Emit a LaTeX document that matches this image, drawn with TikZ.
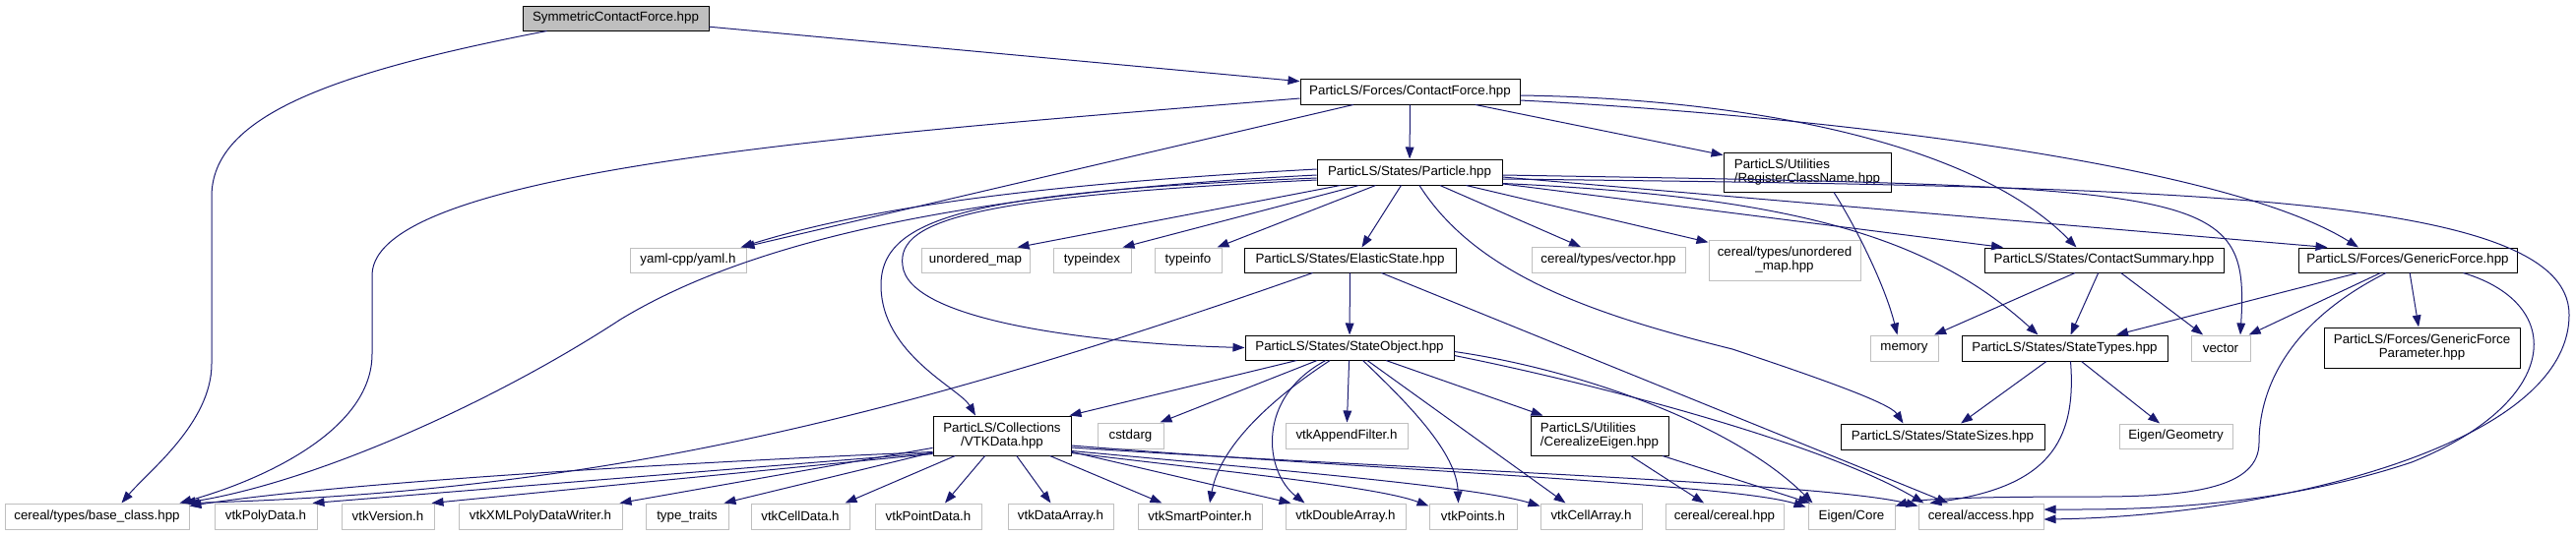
\documentclass[tikz,border=0pt]{standalone}
\usepackage{fontspec}
\setmainfont{Liberation Sans}
\usetikzlibrary{arrows.meta,calc}
\definecolor{edgeblue}{RGB}{25,25,112}
\definecolor{sysgray}{RGB}{191,191,191}

\begin{document}
\begin{tikzpicture}[x=0.75pt, y=-0.75pt,
  font=\fontsize{10}{10.5}\selectfont,
  hdr/.style={draw=black, line width=0.75pt, fill=white, inner sep=0pt, align=center},
  sys/.style={hdr, draw=sysgray},
  root/.style={hdr, fill=sysgray},
  sz/.style 2 args={minimum width=#1*0.75pt, minimum height=#2*0.75pt},
  dep/.style={edgeblue, line width=0.75pt, -{Triangle[length=9pt,width=6.5pt]}}]
  \useasboundingbox (0,0) rectangle (2617,544);

  % rank 0 - 2
  \node[root, sz={189}{25}] (scf) at (625.5,18.5) {SymmetricContactForce.hpp};
  \node[hdr, sz={223}{26}] (cf) at (1432.5,93) {ParticLS/Forces/ContactForce.hpp};
  \node[hdr, sz={188}{26}] (part) at (1432,175) {ParticLS/States/Particle.hpp};
  \node[hdr, sz={170}{40}, align=left] (reg) at (1836,175) {ParticLS/Utilities\\/RegisterClassName.hpp};

  % rank 3
  \node[sys, sz={118}{25}] (yaml) at (699,264.5) {yaml-cpp/yaml.h};
  \node[sys, sz={110}{25}] (umap) at (991,264.5) {unordered\_map};
  \node[sys, sz={79}{25}] (tidx) at (1109.5,264.5) {typeindex};
  \node[sys, sz={68}{25}] (tinfo) at (1207,264.5) {typeinfo};
  \node[hdr, sz={215}{25}] (elastic) at (1371.5,264.5) {ParticLS/States/ElasticState.hpp};
  \node[sys, sz={156}{26}] (cvec) at (1634,264.5) {cereal/types/vector.hpp};
  \node[sys, sz={154}{41}] (cumap) at (1813,264.5) {cereal/types/unordered\\\_map.hpp};
  \node[hdr, sz={243}{25}] (csum) at (2137.5,264.5) {ParticLS/States/ContactSummary.hpp};
  \node[hdr, sz={222}{25}] (gforce) at (2446,264.5) {ParticLS/Forces/GenericForce.hpp};

  % rank 4
  \node[hdr, sz={212}{25}] (sobj) at (1371,353.5) {ParticLS/States/StateObject.hpp};
  \node[sys, sz={69}{26}] (memory) at (1934.5,354) {memory};
  \node[hdr, sz={209}{26}] (stypes) at (2097.5,354) {ParticLS/States/StateTypes.hpp};
  \node[sys, sz={60}{26}] (vector) at (2256,354) {vector};
  \node[hdr, sz={199}{41}] (gfparam) at (2460.5,353.5) {ParticLS/Forces/GenericForce\\Parameter.hpp};

  % rank 5
  \node[hdr, sz={140}{40}] (vtkdata) at (1018,443) {ParticLS/Collections\\/VTKData.hpp};
  \node[sys, sz={67}{26}] (cstdarg) at (1148.5,443) {cstdarg};
  \node[sys, sz={124}{26}] (append) at (1368,443) {vtkAppendFilter.h};
  \node[hdr, sz={140}{40}, align=left] (cereig) at (1625,443) {ParticLS/Utilities\\/CerealizeEigen.hpp};
  \node[hdr, sz={207}{26}] (ssizes) at (1973.5,444) {ParticLS/States/StateSizes.hpp};
  \node[sys, sz={115}{25}] (egeom) at (2210.5,443.5) {Eigen/Geometry};

  % rank 6
  \node[sys, sz={187}{26}] (base) at (98.5,525) {cereal/types/base\_class.hpp};
  \node[sys, sz={104}{26}] (vpoly) at (270,525) {vtkPolyData.h};
  \node[sys, sz={94}{26}] (vver) at (394,525) {vtkVersion.h};
  \node[sys, sz={166}{26}] (vxml) at (549,525) {vtkXMLPolyDataWriter.h};
  \node[sys, sz={84}{26}] (ttraits) at (698,525) {type\_traits};
  \node[sys, sz={100}{26}] (vcell) at (813,525) {vtkCellData.h};
  \node[sys, sz={108}{26}] (vpointd) at (943,525) {vtkPointData.h};
  \node[sys, sz={107}{26}] (varr) at (1077.5,525) {vtkDataArray.h};
  \node[sys, sz={126}{26}] (vsmart) at (1219,525) {vtkSmartPointer.h};
  \node[sys, sz={122}{26}] (vdouble) at (1367,525) {vtkDoubleArray.h};
  \node[sys, sz={89}{26}] (vpoints) at (1496.5,525) {vtkPoints.h};
  \node[sys, sz={103}{26}] (vcellarr) at (1616.5,525) {vtkCellArray.h};
  \node[sys, sz={120}{26}] (ccereal) at (1752,525) {cereal/cereal.hpp};
  \node[sys, sz={88}{26}] (ecore) at (1881,525) {Eigen/Core};
  \node[sys, sz={127}{26}] (caccess) at (2012.5,525) {cereal/access.hpp};

  % SymmetricContactForce.hpp
  \draw[dep] (scf) -- (cf);
  \draw[dep] ($(scf.south west)+(25,0)$) .. controls (330,75) and (215,120) .. (215,200)
    -- (215,370) .. controls (215,430) and (150,480) .. ($(base.north)+(25,0)$);

  % ContactForce.hpp
  \draw[dep] (cf) -- (part);
  \draw[dep] (cf) -- (reg);
  \draw[dep] (cf) -- (yaml);
  \draw[dep] ($(cf.west)+(0,7)$) .. controls (900,135) and (378,170) .. (378,280)
    -- (378,360) .. controls (378,440) and (260,490) .. ($(base.north east)+(-10,0)$);
  \draw[dep] ($(cf.east)+(0,4)$) .. controls (1760,100) and (2000,140) .. ($(csum.north)+(-28,0)$);
  \draw[dep] ($(cf.east)+(0,9)$) .. controls (1800,115) and (2250,160) .. ($(gforce.north)+(-50,0)$);

  % Particle.hpp
  \draw[dep] ($(part.west)+(0,-3)$) .. controls (1100,185) and (900,205) .. ($(yaml.north east)+(-6,0)$);
  \draw[dep] ($(part.west)+(0,3)$) .. controls (1000,195) and (770,240) .. (630,325)
    .. controls (500,410) and (320,490) .. ($(base.north east)+(-6,0)$);
  \draw[dep] ($(part.west)+(0,6)$) .. controls (990,195) and (895,220) .. (895,290)
    .. controls (895,360) and (975,395) .. ($(vtkdata.north)+(-27,0)$);
  \draw[dep] ($(part.west)+(0,8)$) .. controls (980,200) and (905,225) .. (918,275)
    .. controls (935,330) and (1130,350) .. (sobj.west);
  \draw[dep] (part) -- ($(umap.north east)+(-13,0)$);
  \draw[dep] (part) -- ($(tidx.north east)+(-9,0)$);
  \draw[dep] (part) -- ($(tinfo.north east)+(-5,0)$);
  \draw[dep] (part) -- ($(elastic.north)+(12,0)$);
  \draw[dep] (part) -- ($(cvec.north)+(-28,0)$);
  \draw[dep] (part) -- (cumap);
  \draw[dep] (part) -- (csum);
  \draw[dep] ($(part.east)+(0,5)$) -- ($(gforce.north west)+(30,0)$);
  \draw[dep] ($(part.east)+(0,3)$) .. controls (2250,190) and (2285,190) .. ($(vector.north)+(20,0)$);
  \draw[dep] ($(part.south east)+(0,-2)$) .. controls (1820,200) and (1960,240) .. ($(stypes.north)+(-27,0)$);
  \draw[dep] ($(part.south)+(10,0)$) .. controls (1500,280) and (1620,320) .. (1760,355)
    .. controls (1850,385) and (1920,410) .. ($(ssizes.north)+(-40,0)$);
  \draw[dep] ($(part.east)+(0,7)$) .. controls (2200,190) and (2610,195) .. (2610,320)
    .. controls (2610,455) and (2300,525) .. ($(caccess.east)+(0,3)$);

  % RegisterClassName.hpp
  \draw[dep] ($(reg.south)+(27,0)$) .. controls (1885,230) and (1915,290) .. ($(memory.north)+(-7,0)$);

  % ElasticState.hpp
  \draw[dep] (elastic) -- (sobj);
  \draw[dep] ($(elastic.south west)+(70,0)$) .. controls (900,430) and (600,500) .. ($(base.north east)+(-2,0)$);
  \draw[dep] (elastic) -- (caccess);

  % ContactSummary.hpp / GenericForce.hpp
  \draw[dep] (csum) -- (memory);
  \draw[dep] (csum) -- (stypes);
  \draw[dep] (csum) -- (vector);
  \draw[dep] (gforce) -- (stypes);
  \draw[dep] (gforce) -- (vector);
  \draw[dep] (gforce) -- (gfparam);
  \draw[dep] ($(gforce.south)+(-22,0)$) .. controls (2320,330) and (2295,400) .. (2295,450)
    .. controls (2295,495) and (2230,505) .. (2130,505)
    .. controls (2010,505) and (1950,507) .. ($(ecore.north east)+(0,3)$);
  \draw[dep] ($(gforce.south east)+(-55,0)$) .. controls (2610,310) and (2600,410) .. (2450,470)
    .. controls (2300,520) and (2150,518) .. ($(caccess.east)+(0,-7)$);

  % StateObject.hpp
  \draw[dep] (sobj) -- ($(vtkdata.north east)+(-2,0)$);
  \draw[dep] (sobj) -- ($(cstdarg.north east)+(-4,0)$);
  \draw[dep] (sobj) .. controls (1300,400) and (1240,450) .. ($(vsmart.north)+(10,0)$);
  \draw[dep] (sobj) .. controls (1275,405) and (1285,480) .. ($(vdouble.north west)+(20,0)$);
  \draw[dep] (sobj) -- (append);
  \draw[dep] (sobj) .. controls (1430,410) and (1480,460) .. ($(vpoints.north)+(-15,0)$);
  \draw[dep] (sobj) -- ($(vcellarr.north)+(-26,0)$);
  \draw[dep] (sobj) -- ($(cereig.north west)+(13,0)$);
  \draw[dep] ($(sobj.east)+(0,4)$) .. controls (1600,375) and (1760,430) .. ($(ecore.north west)+(5,0)$);
  \draw[dep] ($(sobj.east)+(0,8)$) .. controls (1620,390) and (1850,450) .. ($(caccess.north west)+(6,0)$);

  % StateTypes.hpp
  \draw[dep] (stypes) -- (ssizes);
  \draw[dep] (stypes) -- (egeom);
  \draw[dep] ($(stypes.south)+(6,0)$) .. controls (2110,450) and (2080,495) .. ($(caccess.north west)+(12,0)$);

  % CerealizeEigen.hpp
  \draw[dep] (cereig) -- (ccereal);
  \draw[dep] (cereig) -- (ecore);

  % VTKData.hpp
  \draw[dep] ($(vtkdata.south west)+(0,-4)$) .. controls (700,470) and (350,490) .. ($(base.north east)+(0,3)$);
  \draw[dep] ($(vtkdata.south west)+(0,-3)$) -- ($(vpoly.north east)+(-5,0)$);
  \draw[dep] ($(vtkdata.south west)+(0,-2)$) -- ($(vver.north east)+(-3,0)$);
  \draw[dep] (vtkdata) -- ($(vxml.north east)+(-3,0)$);
  \draw[dep] (vtkdata) -- ($(ttraits.north east)+(-5,0)$);
  \draw[dep] (vtkdata) -- ($(vcell.north east)+(-5,0)$);
  \draw[dep] (vtkdata) -- ($(vpointd.north)+(17,0)$);
  \draw[dep] (vtkdata) -- ($(varr.north)+(-10,0)$);
  \draw[dep] (vtkdata) -- ($(vsmart.north west)+(25,0)$);
  \draw[dep] (vtkdata) -- ($(vdouble.north west)+(6,0)$);
  \draw[dep] ($(vtkdata.south east)+(0,-3)$) .. controls (1250,480) and (1400,495) .. ($(vpoints.north west)+(0,3)$);
  \draw[dep] ($(vtkdata.south east)+(0,-5)$) .. controls (1300,478) and (1500,495) .. ($(vcellarr.north west)+(0,3)$);
  \draw[dep] ($(vtkdata.east)+(0,10)$) .. controls (1400,478) and (1760,492) .. ($(ecore.north west)+(-2,4)$);
  \draw[dep] ($(vtkdata.east)+(0,12)$) .. controls (1400,476) and (1850,490) .. ($(caccess.north west)+(0,3)$);
\end{tikzpicture}
\end{document}
